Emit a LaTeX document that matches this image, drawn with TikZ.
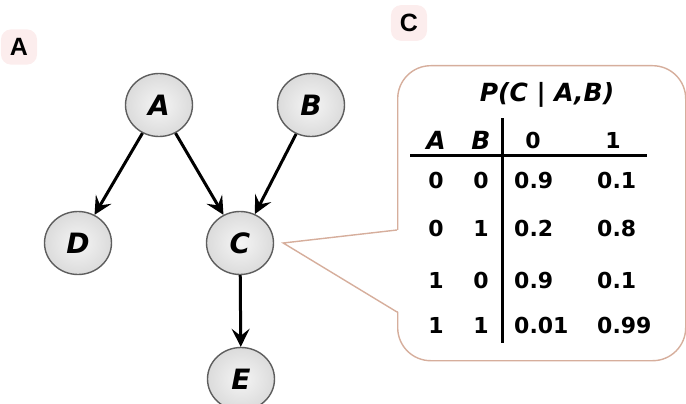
\documentclass[tikz,border=0pt]{standalone}
\usepackage{fontspec}
\setmainfont{Liberation Sans}
\newfontfamily\hand{DejaVu Sans}
\newfontfamily\digits{DejaVu Sans}
\usetikzlibrary{shapes.geometric,arrows.meta}

\definecolor{nodeedge}{HTML}{5E5E5E}
\definecolor{calloutedge}{HTML}{D6AE9C}
\definecolor{halo}{HTML}{FCEDED}

\tikzset{
  var/.style={ellipse, draw=nodeedge, line width=1.4pt, inner sep=0pt,
    minimum width=67pt, minimum height=63pt,
    inner color=gray!8, outer color=gray!28,
    font=\hand\bfseries\itshape\fontsize{28}{30}\selectfont},
  edge/.style={line width=3pt, -{Stealth[length=18pt,width=18pt,inset=7pt]}},
  panel/.style={font=\bfseries\fontsize{25}{27}\selectfont, fill=halo,
    rounded corners=10pt, inner sep=9pt},
  hd/.style={font=\hand\bfseries\itshape\fontsize{25}{27}\selectfont, inner sep=0pt},
  num/.style={font=\digits\bfseries\fontsize{22}{24}\selectfont, inner sep=0pt},
  val/.style={num, anchor=west},
  rule/.style={line width=3pt}
}

\begin{document}
\begin{tikzpicture}[x=1pt,y=-1pt]
\useasboundingbox (0,0) rectangle (686,404);
\clip (0,0) rectangle (686,404);

% panel labels
\node[panel] (labA) at (19,47) {A};
\node[panel] (labC) at (409,23) {C};

% the network
\node[var] (A) at (159,105) {A};
\node[var] (B) at (311,105) {B};
\node[var] (D) at (78,243) {D};
\node[var] (C) at (240,243) {C};
\node[var] (E) at (241,379) {E};

\draw[edge] (A) -- (D);
\draw[edge] (A) -- (C);
\draw[edge] (B) -- (C);
\draw[edge] (C) -- (E);

% callout holding the conditional probability table
\coordinate (tip) at ([xshift=9pt]C.east);
\node[draw=calloutedge, line width=1.4pt, fill=white, rounded corners=33pt,
      minimum width=288pt, minimum height=295pt, anchor=north west, inner sep=0pt]
      (cpt) at (397,65) {};
\coordinate (up) at (397,230);
\coordinate (lo) at (397,312);
\fill[white] (tip) -- ([xshift=2pt]up) -- ([xshift=2pt]lo) -- cycle;
\draw[calloutedge, line width=1.4pt, line join=miter] (up) -- (tip) -- (lo);

\node[hd] (title) at (547,95) {P(C | A,B)};

\node[hd] (hA) at (436,140) {A};
\node[hd] (hB) at (481,140) {B};
\node[num] (h0) at (533,140) {0};
\node[num] (h1) at (613,140) {1};

\coordinate (hl) at (410,155);
\coordinate (hr) at (647,155);
\coordinate (vt) at (502,118);
\coordinate (vb) at (502,343);
\draw[rule] (hl) -- (hr);
\draw[rule] (vt) -- (vb);

\node[num] (r1a) at (436,180) {0}; \node[num] (r1b) at (481,180) {0};
\node[val] (r1c) at (514,180) {0.9}; \node[val] (r1d) at (597,180) {0.1};

\node[num] (r2a) at (436,228) {0}; \node[num] (r2b) at (481,228) {1};
\node[val] (r2c) at (514,228) {0.2}; \node[val] (r2d) at (597,228) {0.8};

\node[num] (r3a) at (436,280) {1}; \node[num] (r3b) at (481,280) {0};
\node[val] (r3c) at (514,280) {0.9}; \node[val] (r3d) at (597,280) {0.1};

\node[num] (r4a) at (436,325) {1}; \node[num] (r4b) at (481,325) {1};
\node[val] (r4c) at (514,325) {0.01}; \node[val] (r4d) at (597,325) {0.99};
\end{tikzpicture}
\end{document}
